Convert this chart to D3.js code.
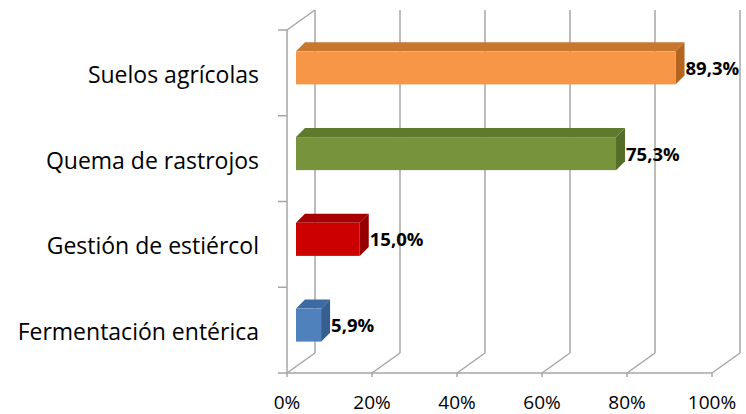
<!DOCTYPE html>
<html><head><meta charset="utf-8">
<script src="https://cdn.jsdelivr.net/npm/d3@7"></script>
<style>body{margin:0;background:#fff}svg{display:block}</style>
</head><body>
<svg id="c" width="746" height="414"></svg>
<script>
const categories = ["Suelos agrícolas","Quema de rastrojos","Gestión de estiércol","Fermentación entérica"];
const values = [0.893, 0.753, 0.150, 0.059];
const valueLabels = ["89,3%","75,3%","15,0%","5,9%"];
const tickValues = [0,0.2,0.4,0.6,0.8,1.0];
const tickLabels = ["0%","20%","40%","60%","80%","100%"];
const colors = [
  {front:"#F79646", top:"#C8772F", side:"#B5641F"},
  {front:"#77933C", top:"#5E7A2C", side:"#556E27"},
  {front:"#CC0000", top:"#A80000", side:"#960000"},
  {front:"#4F81BD", top:"#3D6AA0", side:"#355F90"}
];

const svg = d3.select("#c");
const L=287, R=712, T=30, B=373;
const DX=28, DY=-20;
const x = d3.scaleLinear().domain([0,1]).range([L,R]);
const y = d3.scaleBand().domain(categories).range([T,B]).paddingInner(0.615).paddingOuter(0.3075);
const grid="#A6A6A6";
const FONT="'Open Sans', sans-serif";
const g = svg.append("g");

tickValues.forEach(t=>{
  const xf=x(t);
  g.append("line").attr("x1",xf+DX).attr("x2",xf+DX).attr("y1",T+DY).attr("y2",B+DY).attr("stroke",grid).attr("stroke-width",1.5);
  g.append("line").attr("x1",xf).attr("x2",xf+DX).attr("y1",B).attr("y2",B+DY).attr("stroke",grid).attr("stroke-width",1.5);
  g.append("line").attr("x1",xf).attr("x2",xf).attr("y1",B).attr("y2",B+4).attr("stroke",grid).attr("stroke-width",1.5);
});
g.append("line").attr("x1",L).attr("x2",L).attr("y1",T).attr("y2",B).attr("stroke",grid).attr("stroke-width",1.5);
g.append("line").attr("x1",L).attr("x2",L+DX).attr("y1",T).attr("y2",T+DY).attr("stroke",grid).attr("stroke-width",1.5);
g.append("line").attr("x1",L).attr("x2",R).attr("y1",B).attr("y2",B).attr("stroke",grid).attr("stroke-width",1.5);
const step=y.step();
for(let i=0;i<=categories.length;i++){
  const yy=T+i*step;
  g.append("line").attr("x1",L-9).attr("x2",L).attr("y1",yy).attr("y2",yy).attr("stroke",grid).attr("stroke-width",1.5);
}

const fx=9, fy=-5, dx=9, dy=-9;
categories.forEach((c,i)=>{
  const x0=x(0)+fx, x1=x(values[i])+fx;
  const y0=y(c)+fy, h=y.bandwidth();
  const col=colors[i];
  g.append("path").attr("d",`M${x0},${y0}L${x0+dx},${y0+dy}L${x1+dx},${y0+dy}L${x1},${y0}Z`).attr("fill",col.top);
  g.append("path").attr("d",`M${x1},${y0}L${x1+dx},${y0+dy}L${x1+dx},${y0+dy+h}L${x1},${y0+h}Z`).attr("fill",col.side);
  g.append("rect").attr("x",x0).attr("y",y0).attr("width",x1-x0).attr("height",h).attr("fill",col.front);
  g.append("text").attr("x",x1+dx+1).attr("y",y0+h/2+7)
    .attr("font-family",FONT).attr("font-weight","bold").attr("font-size",18.5).attr("fill","#000")
    .text(valueLabels[i]);
  const cy=y(c)+h/2;
  g.append("text").attr("x",259).attr("y",cy+10).attr("text-anchor","end")
    .attr("font-family",FONT).attr("font-size",23).attr("fill","#000").text(c);
});

tickValues.forEach((t,i)=>{
  g.append("text").attr("x",x(t)).attr("y",409).attr("text-anchor","middle")
    .attr("font-family",FONT).attr("font-size",19).attr("fill","#000").text(tickLabels[i]);
});
</script>
</body></html>
